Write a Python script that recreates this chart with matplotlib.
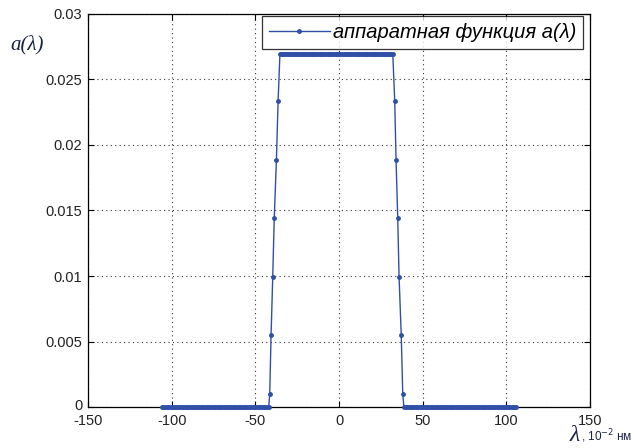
import numpy as np
import matplotlib
matplotlib.use("Agg")
import matplotlib.pyplot as plt
import matplotlib.transforms as mtransforms

# ---- data ----
lam_zero_left = np.arange(-106.0, -41.5, 1.0)
y_zero_left = [0.0] * len(lam_zero_left)
lam_rise = [-41.4, -40.6, -39.6, -38.7, -37.4, -36.4]
y_rise = [0.00099, 0.00547, 0.00992, 0.01440, 0.01885, 0.02334]
lam_flat = np.arange(-35.3, 32.5, 0.95)
y_flat = [0.02695] * len(lam_flat)
lam_fall = [33.3, 34.1, 35.1, 35.9, 37.2, 38.1]
y_fall = [0.02334, 0.01885, 0.01440, 0.00992, 0.00547, 0.00099]
lam_zero_right = np.arange(38.8, 106.0, 1.0)
y_zero_right = [0.0] * len(lam_zero_right)

lam = np.concatenate([lam_zero_left, lam_rise, lam_flat, lam_fall, lam_zero_right])
a = np.concatenate([y_zero_left, y_rise, y_flat, y_fall, y_zero_right])

xticks = [-150, -100, -50, 0, 50, 100, 150]
yticks = [0, 0.005, 0.01, 0.015, 0.02, 0.025, 0.03]
ytick_labels = ["0", "0.005", "0.01", "0.015", "0.02", "0.025", "0.03"]

plt.rcParams['font.family'] = ['Liberation Sans', 'DejaVu Sans']

fig = plt.figure(figsize=(6.35, 4.48), dpi=100)
ax = fig.add_axes([88/635, 1-407/448, (590-88)/635, (407-14)/448])

color = '#3050a8'
line, = ax.plot(lam, a, '-', color=color, lw=1.0, marker='.', markersize=5,
                label='аппаратная функция a(λ)', clip_on=False, zorder=5)

ax.set_xlim(-150, 150)
ax.set_ylim(0, 0.03)
ax.set_xticks(xticks)
ax.set_xticklabels([str(t) for t in xticks])
ax.set_yticks(yticks)
ax.set_yticklabels(ytick_labels)
ax.tick_params(direction='in', top=True, right=True, labelsize=10.5, length=4,
               width=0.8, colors='black', labelcolor='#222222')
ax.tick_params(axis='x', pad=5)
ax.tick_params(axis='y', pad=4)
ax.grid(True, linestyle=(0, (1, 3)), color='#333333', lw=0.8)
for s in ax.spines.values():
    s.set_linewidth(0.9)

# lift the "0" y label slightly so it sits just above "-150"
lbl0 = ax.get_yticklabels()[0]
lbl0.set_transform(lbl0.get_transform() +
                   mtransforms.ScaledTranslation(0, 3/100, fig.dpi_scale_trans))

leg = ax.legend(loc='upper right',
                prop={'style': 'italic', 'size': 14.5}, frameon=True, fancybox=False,
                handlelength=3.0, handletextpad=0.15, borderpad=0.35, borderaxespad=0.0)
leg.get_frame().set_edgecolor('black')
leg.get_frame().set_linewidth(0.9)
leg.set_bbox_to_anchor((583/635, 1-16/448), transform=fig.transFigure)

fig.text(10/635, 1-45/448, 'a(λ)', fontsize=15, style='italic',
         family=['Liberation Serif', 'DejaVu Serif'], color='#1a2340', ha='left', va='center')
fig.text(580/635, 1-441/448, 'λ', fontsize=17, style='italic',
         family=['Liberation Serif', 'DejaVu Serif'], color='#1a2340', ha='right', va='baseline')
fig.text(581/635, 1-441/448, ', 10$^{-2}$ нм', fontsize=8.5, color='#1a2340',
         ha='left', va='baseline')

fig.savefig('out.png', dpi=100)
